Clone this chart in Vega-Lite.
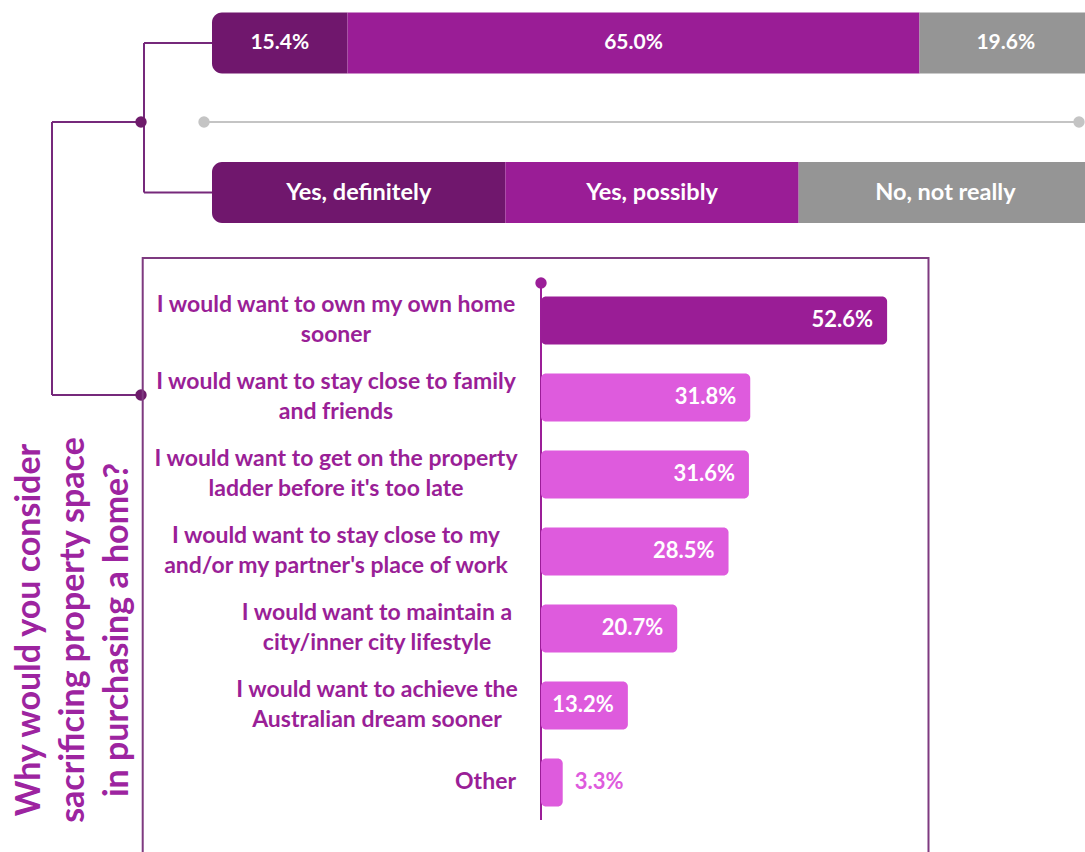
{
  "$schema": "https://vega.github.io/schema/vega-lite/v6.json",
  "width": 1085,
  "height": 852,
  "padding": 0,
  "autosize": {"type": "none"},
  "background": "white",
  "config": {
    "view": {"stroke": null},
    "font": "Lato",
    "axis": {"disable": true, "domain": false, "ticks": false, "labels": false, "grid": false, "title": null}
  },
  "datasets": {
    "responses": [
      {"response": "Yes, definitely", "share": 0.154},
      {"response": "Yes, possibly", "share": 0.65},
      {"response": "No, not really", "share": 0.196}
    ],
    "reasons": [
      {"reason": "I would want to own my own home\nsooner", "rank": 1, "share": 0.526},
      {"reason": "I would want to stay close to family\nand friends", "rank": 2, "share": 0.318},
      {"reason": "I would want to get on the property\nladder before it's too late", "rank": 3, "share": 0.316},
      {"reason": "I would want to stay close to my\nand/or my partner's place of work", "rank": 4, "share": 0.285},
      {"reason": "I would want to maintain a\ncity/inner city lifestyle", "rank": 5, "share": 0.207},
      {"reason": "I would want to achieve the\nAustralian dream sooner", "rank": 6, "share": 0.132},
      {"reason": "Other", "rank": 7, "share": 0.033}
    ]
  },
  "resolve": {"scale": {"x": "independent"}},
  "layer": [
    {
      "layer": [
        {
          "data": {"values": [{}]},
          "mark": {"type": "rule", "color": "#76297b", "strokeWidth": 2},
          "encoding": {
            "x": {"datum": -0.07727, "type": "quantitative", "scale": {"domain": [-0.24091, 0.99205], "nice": false, "zero": false, "padding": 0}, "axis": null},
            "y": {"datum": -2.604, "type": "quantitative", "scale": {"domain": [-3.1623, 7.9026], "reverse": true, "nice": false, "zero": false, "padding": 0}, "axis": null},
            "y2": {"datum": -0.662}
          }
        },
        {
          "data": {"values": [{}]},
          "mark": {"type": "rule", "color": "#76297b", "strokeWidth": 2},
          "encoding": {"x": {"datum": -0.07727, "type": "quantitative"}, "x2": {"datum": 0}, "y": {"datum": -2.604, "type": "quantitative"}}
        },
        {
          "data": {"values": [{}]},
          "mark": {"type": "rule", "color": "#76297b", "strokeWidth": 2},
          "encoding": {"x": {"datum": -0.07727, "type": "quantitative"}, "x2": {"datum": 0}, "y": {"datum": -0.662, "type": "quantitative"}}
        },
        {
          "data": {"values": [{}]},
          "mark": {"type": "rule", "color": "#76297b", "strokeWidth": 2},
          "encoding": {"x": {"datum": -0.18182, "type": "quantitative"}, "x2": {"datum": -0.08068}, "y": {"datum": -1.578, "type": "quantitative"}}
        },
        {
          "data": {"values": [{}]},
          "mark": {"type": "rule", "color": "#76297b", "strokeWidth": 2},
          "encoding": {"x": {"datum": -0.18182, "type": "quantitative"}, "y": {"datum": -1.578, "type": "quantitative"}, "y2": {"datum": 1.968}}
        },
        {
          "data": {"values": [{}]},
          "mark": {"type": "rule", "color": "#76297b", "strokeWidth": 2},
          "encoding": {"x": {"datum": -0.18182, "type": "quantitative"}, "x2": {"datum": -0.08068}, "y": {"datum": 1.968, "type": "quantitative"}}
        },
        {
          "data": {"values": [{}]},
          "mark": {"type": "point", "filled": true, "shape": "circle", "size": 130, "opacity": 1, "color": "#6e1b6b"},
          "encoding": {"x": {"datum": -0.08068, "type": "quantitative"}, "y": {"datum": -1.578, "type": "quantitative"}}
        },
        {
          "data": {"values": [{}]},
          "mark": {"type": "point", "filled": true, "shape": "circle", "size": 130, "opacity": 1, "color": "#6e1b6b"},
          "encoding": {"x": {"datum": -0.08068, "type": "quantitative"}, "y": {"datum": 1.968, "type": "quantitative"}}
        },
        {
          "data": {"values": [{}]},
          "mark": {"type": "rule", "color": "#c4c4c4", "strokeWidth": 2},
          "encoding": {"x": {"datum": -0.00909, "type": "quantitative"}, "x2": {"datum": 0.98523}, "y": {"datum": -1.578, "type": "quantitative"}}
        },
        {
          "data": {"values": [{}]},
          "mark": {"type": "point", "filled": true, "shape": "circle", "size": 130, "opacity": 1, "color": "#c4c4c4"},
          "encoding": {"x": {"datum": -0.00909, "type": "quantitative"}, "y": {"datum": -1.578, "type": "quantitative"}}
        },
        {
          "data": {"values": [{}]},
          "mark": {"type": "point", "filled": true, "shape": "circle", "size": 130, "opacity": 1, "color": "#c4c4c4"},
          "encoding": {"x": {"datum": 0.98523, "type": "quantitative"}, "y": {"datum": -1.578, "type": "quantitative"}}
        },
        {
          "data": {"name": "responses"},
          "transform": [
            {"stack": "share", "groupby": [], "offset": "normalize", "as": ["s0", "s1"]},
            {"filter": "datum.response === 'Yes, definitely'"}
          ],
          "mark": {"type": "bar", "orient": "horizontal", "size": 61, "cornerRadiusTopLeft": 10, "cornerRadiusBottomLeft": 10},
          "encoding": {
            "x": {"field": "s0", "type": "quantitative"},
            "x2": {"field": "s1"},
            "y": {"datum": -2.604, "type": "quantitative"},
            "color": {"field": "response", "type": "nominal", "scale": {"domain": ["Yes, definitely", "Yes, possibly", "No, not really"], "range": ["#70176d", "#9a1d96", "#959595"]}, "legend": null}
          }
        },
        {
          "data": {"name": "responses"},
          "transform": [
            {"stack": "share", "groupby": [], "offset": "normalize", "as": ["s0", "s1"]},
            {"filter": "datum.response !== 'Yes, definitely'"}
          ],
          "mark": {"type": "bar", "orient": "horizontal", "size": 61},
          "encoding": {
            "x": {"field": "s0", "type": "quantitative"},
            "x2": {"field": "s1"},
            "y": {"datum": -2.604, "type": "quantitative"},
            "color": {"field": "response", "type": "nominal", "legend": null}
          }
        },
        {
          "data": {"name": "responses"},
          "transform": [{"window": [{"op": "row_number", "as": "idx"}]}],
          "mark": {"type": "text", "color": "white", "fontSize": 21, "fontWeight": "bold", "align": "center", "baseline": "middle"},
          "encoding": {
            "x": {"field": "share", "type": "quantitative", "stack": "normalize", "bandPosition": 0.5},
            "y": {"datum": -2.604, "type": "quantitative"},
            "detail": {"field": "response", "type": "nominal"},
            "order": {"field": "idx", "type": "quantitative"},
            "text": {"field": "share", "type": "quantitative", "format": ".1%"}
          }
        },
        {
          "data": {"name": "responses"},
          "transform": [
            {"aggregate": [{"op": "count", "as": "n"}], "groupby": ["response"]},
            {"stack": "n", "groupby": [], "offset": "normalize", "as": ["s0", "s1"]},
            {"filter": "datum.response === 'Yes, definitely'"}
          ],
          "mark": {"type": "bar", "orient": "horizontal", "size": 61, "cornerRadiusTopLeft": 10, "cornerRadiusBottomLeft": 10},
          "encoding": {
            "x": {"field": "s0", "type": "quantitative"},
            "x2": {"field": "s1"},
            "y": {"datum": -0.662, "type": "quantitative"},
            "color": {"field": "response", "type": "nominal", "legend": null}
          }
        },
        {
          "data": {"name": "responses"},
          "transform": [
            {"aggregate": [{"op": "count", "as": "n"}], "groupby": ["response"]},
            {"stack": "n", "groupby": [], "offset": "normalize", "as": ["s0", "s1"]},
            {"filter": "datum.response !== 'Yes, definitely'"}
          ],
          "mark": {"type": "bar", "orient": "horizontal", "size": 61},
          "encoding": {
            "x": {"field": "s0", "type": "quantitative"},
            "x2": {"field": "s1"},
            "y": {"datum": -0.662, "type": "quantitative"},
            "color": {"field": "response", "type": "nominal", "legend": null}
          }
        },
        {
          "data": {"name": "responses"},
          "transform": [
            {"aggregate": [{"op": "count", "as": "n"}], "groupby": ["response"]},
            {"stack": "n", "groupby": [], "offset": "normalize", "as": ["s0", "s1"]}
          ],
          "mark": {"type": "text", "color": "white", "fontSize": 23.5, "fontWeight": "bold", "align": "center", "baseline": "middle", "dx": 146.7},
          "encoding": {
            "x": {"field": "s0", "type": "quantitative"},
            "y": {"datum": -0.662, "type": "quantitative"},
            "text": {"field": "response", "type": "nominal"}
          }
        }
      ]
    },
    {
      "layer": [
        {
          "data": {"values": [{}]},
          "mark": {"type": "rect", "filled": false, "color": "#7e3a80", "strokeWidth": 2},
          "encoding": {
            "x": {"datum": -0.6053, "type": "quantitative", "scale": {"domain": [-0.82219, 0.82675], "nice": false, "zero": false, "padding": 0}, "axis": null},
            "x2": {"datum": 0.5889},
            "y": {"datum": 0.188, "type": "quantitative", "axis": null},
            "y2": {"datum": 8.3}
          }
        },
        {
          "data": {"values": [{}]},
          "mark": {"type": "rule", "color": "#9b1e98", "strokeWidth": 2},
          "encoding": {"x": {"datum": 0, "type": "quantitative"}, "y": {"datum": 0.513, "type": "quantitative"}, "y2": {"datum": 7.487}}
        },
        {
          "data": {"values": [{}]},
          "mark": {"type": "point", "filled": true, "shape": "circle", "size": 130, "opacity": 1, "color": "#9b1e98"},
          "encoding": {"x": {"datum": 0, "type": "quantitative"}, "y": {"datum": 0.513, "type": "quantitative"}}
        },
        {
          "data": {"name": "reasons"},
          "mark": {"type": "bar", "orient": "horizontal", "size": 48, "cornerRadiusEnd": 5},
          "encoding": {
            "x": {"field": "share", "type": "quantitative"},
            "x2": {"datum": 0},
            "y": {"field": "rank", "type": "quantitative"},
            "color": {"condition": {"test": "datum.rank === 1", "value": "#9a1d96"}, "value": "#de5bdd"}
          }
        },
        {
          "data": {"name": "reasons"},
          "transform": [{"filter": "datum.share >= 0.05"}],
          "mark": {"type": "text", "color": "white", "fontSize": 22, "fontWeight": "bold", "align": "right", "baseline": "middle", "dx": -14},
          "encoding": {
            "x": {"field": "share", "type": "quantitative"},
            "y": {"field": "rank", "type": "quantitative"},
            "text": {"field": "share", "type": "quantitative", "format": ".1%"}
          }
        },
        {
          "data": {"name": "reasons"},
          "transform": [{"filter": "datum.share < 0.05"}],
          "mark": {"type": "text", "color": "#de5bdd", "fontSize": 22, "fontWeight": "bold", "align": "left", "baseline": "middle", "dx": 12},
          "encoding": {
            "x": {"field": "share", "type": "quantitative"},
            "y": {"field": "rank", "type": "quantitative"},
            "text": {"field": "share", "type": "quantitative", "format": ".1%"}
          }
        },
        {
          "data": {"name": "reasons"},
          "transform": [{"filter": "datum.rank <= 4"}],
          "mark": {"type": "text", "color": "#9a1f97", "fontSize": 23, "fontWeight": "bold", "align": "center", "baseline": "middle", "lineBreak": "\n", "lineHeight": 30, "dy": -15},
          "encoding": {
            "x": {"datum": -0.31155, "type": "quantitative"},
            "y": {"field": "rank", "type": "quantitative"},
            "text": {"field": "reason", "type": "nominal"}
          }
        },
        {
          "data": {"name": "reasons"},
          "transform": [{"filter": "datum.rank >= 5 && datum.rank <= 6"}],
          "mark": {"type": "text", "color": "#9a1f97", "fontSize": 23, "fontWeight": "bold", "align": "center", "baseline": "middle", "lineBreak": "\n", "lineHeight": 30, "dy": -15},
          "encoding": {
            "x": {"datum": -0.24924, "type": "quantitative"},
            "y": {"field": "rank", "type": "quantitative"},
            "text": {"field": "reason", "type": "nominal"}
          }
        },
        {
          "data": {"name": "reasons"},
          "transform": [{"filter": "datum.rank === 7"}],
          "mark": {"type": "text", "color": "#9a1f97", "fontSize": 23, "fontWeight": "bold", "align": "right", "baseline": "middle"},
          "encoding": {
            "x": {"datum": -0.03799, "type": "quantitative"},
            "y": {"field": "rank", "type": "quantitative"},
            "text": {"field": "reason", "type": "nominal"}
          }
        },
        {
          "data": {"values": [{}]},
          "mark": {"type": "text", "text": ["Why would you consider", "sacrificing property space", "in purchasing a home?"], "angle": 270, "color": "#9d24a0", "fontSize": 34, "fontWeight": "bold", "align": "center", "baseline": "middle", "lineHeight": 44},
          "encoding": {
            "x": {"datum": -0.7766, "type": "quantitative"},
            "y": {"datum": 5.02, "type": "quantitative"}
          }
        }
      ]
    }
  ]
}
